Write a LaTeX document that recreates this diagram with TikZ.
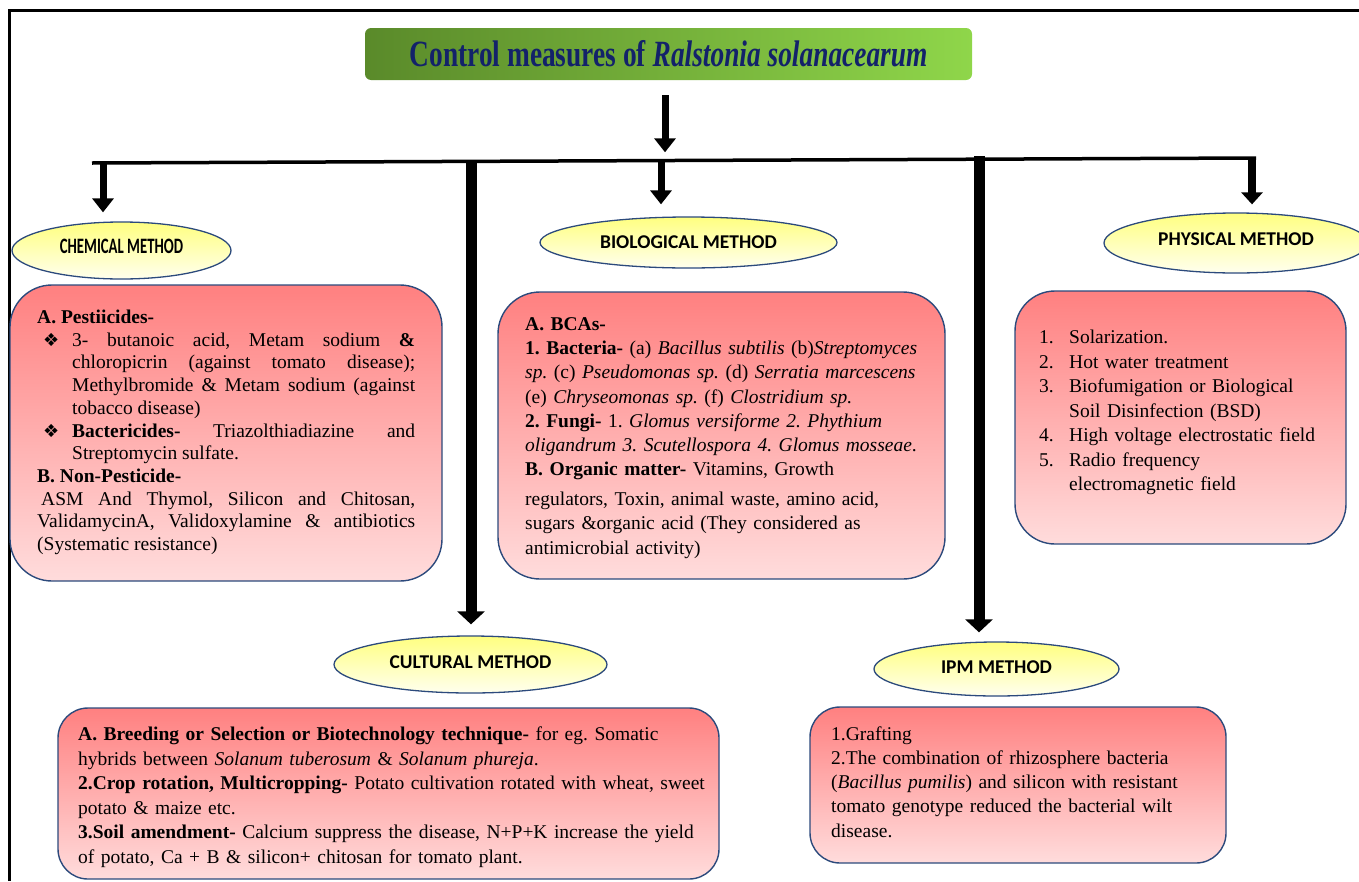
\documentclass[tikz,border=0pt]{standalone}
\usepackage{fontspec}
\setmainfont{Liberation Serif}
\newfontfamily\calfont{Carlito}
\newfontfamily\symfont{DejaVu Sans}
\usetikzlibrary{shapes.geometric,arrows.meta}
\frenchspacing
\definecolor{navy}{HTML}{13226A}
\definecolor{gdark}{HTML}{5A8A2A}
\definecolor{glight}{HTML}{8FD64A}
\definecolor{ytop}{HTML}{FFFF80}
\definecolor{ybot}{HTML}{FFFFEE}
\definecolor{rtop}{HTML}{FF8080}
\definecolor{rbot}{HTML}{FFDCDC}
\definecolor{edgeblue}{HTML}{2C4A7C}
\newcommand{\bul}{\llap{\symfont\fontsize{18}{18}\selectfont ❖\hspace{13pt}}}
\begin{document}
\begin{tikzpicture}[x=1pt,y=-1pt,
  oval/.style={ellipse, draw=edgeblue, line width=1.3pt, top color=ytop, bottom color=ybot, inner sep=0pt, font=\calfont\bfseries\fontsize{19.5}{22}\selectfont},
  rbox/.style={rectangle, draw=edgeblue, line width=1.4pt, top color=rtop, bottom color=rbot, rounded corners=#1},
  rbox/.default=40pt,
  body/.style={inner sep=0pt, anchor=base west, align=left},
  arrS/.style={line width=7pt, -{Triangle[length=14pt,width=21pt]}},
  arrL/.style={line width=11pt, -{Triangle[length=13pt,width=27pt]}},
  bar/.style={line width=3.5pt},
]
\useasboundingbox (0,0) rectangle (1359,881);
% frame
\draw[line width=3pt] (9,881) -- (9,10) -- (1359,10);

% title
\node[rounded corners=6pt, left color=gdark, right color=glight, minimum width=607pt, minimum height=52pt, inner sep=0pt, text=navy] (title) at (668.5,54)
  {\scalebox{0.74}[1]{\fontsize{37}{40}\selectfont\bfseries Control measures of \textit{Ralstonia solanacearum}}};

% ellipses
\node[oval, minimum width=219pt, minimum height=57pt, text depth=8pt] (chem) at (121.5,250.5) {\scalebox{0.67}[1]{\fontsize{22}{24}\selectfont CHEMICAL METHOD}};
\node[oval, minimum width=297pt, minimum height=51pt] (bio) at (688.5,242.5) {BIOLOGICAL METHOD};
\node[oval, minimum width=264pt, minimum height=60pt, text depth=8pt] (phys) at (1236,243) {PHYSICAL METHOD};
\node[oval, minimum width=273pt, minimum height=57pt, text depth=4pt] (cult) at (470.5,664.5) {CULTURAL METHOD};
\node[oval, minimum width=245pt, minimum height=54pt, text depth=4pt] (ipm) at (996.5,669) {IPM METHOD};

% bar and connectors
\coordinate (barL) at (92,163);
\coordinate (cA) at (103,162.8);
\coordinate (cC) at (471,161);
\coordinate (cT) at (665,160.3);
\coordinate (cB) at (661,160.5);
\coordinate (cI) at (979,156);
\coordinate (cP) at (1252,156.5);
\draw[bar] (barL) -- (1256,158);
\draw[arrS] (cT |- title.south) -- (cT) [shorten <=15pt, shorten >=8pt];
\draw[arrS, shorten >=9pt] (cA) -- (cA |- chem.north);
\draw[arrS, shorten >=12pt] (cB) -- (cB |- bio.north);
\draw[line width=8pt, -{Triangle[length=12pt,width=21pt]}, shorten >=8pt] (cP) -- (cP |- phys.north);
\draw[arrL, shorten >=11pt] (cC) -- (cC |- cult.north);
\draw[arrL, shorten >=9pt] (cI) -- (cI |- ipm.north);

% boxes
\node[rbox=42pt, minimum width=432pt, minimum height=296pt] (chembox) at (226,433) {};
\node[rbox=42pt, minimum width=447pt, minimum height=287pt] (biobox) at (721.5,435.5) {};
\node[rbox=40pt, minimum width=331pt, minimum height=253pt] (physbox) at (1180.5,417.5) {};
\node[rbox=30pt, minimum width=661pt, minimum height=171pt] (cultbox) at (388.5,793.5) {};
\node[rbox=30pt, minimum width=416pt, minimum height=156pt] (ipmbox) at (1018,785) {};

% texts
\node[body, text width=378pt, align=justify, font=\fontsize{19.5}{22.7}\selectfont] (chemtxt) at (37,323.5) {%
\textbf{A. Pestiicides-}\par
\noindent\hangindent=35pt\hangafter=0\bul 3- butanoic acid, Metam sodium \textbf{\&}\linebreak chloropicrin (against tomato disease);\linebreak Methylbromide \& Metam sodium (against\linebreak tobacco disease)\par
\noindent\hangindent=35pt\hangafter=0\bul\textbf{Bactericides-} Triazolthiadiazine and\linebreak Streptomycin sulfate.\par
\textbf{B. Non-Pesticide-}\par
\hspace*{4pt}ASM And Thymol, Silicon and Chitosan,\linebreak ValidamycinA, Validoxylamine \& antibiotics\linebreak (Systematic resistance)};

\node[body, text width=420pt, font=\fontsize{19.5}{24.2}\selectfont] (biotxt) at (525,330.5) {%
\textbf{A. BCAs-}\\
\textbf{1. Bacteria-} (a) \textit{Bacillus subtilis} (b)\textit{Streptomyces}\\
\textit{sp.} (c) \textit{Pseudomonas sp.} (d) \textit{Serratia marcescens}\\
(e) \textit{Chryseomonas sp.} (f) \textit{Clostridium sp.}\\
\textbf{2. Fungi-} 1. \textit{Glomus versiforme 2. Phythium}\\
\textit{oligandrum 3. Scutellospora 4. Glomus mosseae}.\\
\textbf{B. Organic matter-} Vitamins, Growth\\[5.8pt]
regulators, Toxin, animal waste, amino acid,\\
sugars \&organic acid (They considered as\\
antimicrobial activity)};

\node[body, text width=300pt, font=\fontsize{19.5}{24.5}\selectfont] (phystxt) at (1039,343.5) {%
\makebox[30pt][l]{1.}Solarization.\\
\makebox[30pt][l]{2.}Hot water treatment\\
\makebox[30pt][l]{3.}Biofumigation or Biological\\
\hspace*{30pt}Soil Disinfection (BSD)\\
\makebox[30pt][l]{4.}High voltage electrostatic field\\
\makebox[30pt][l]{5.}Radio frequency\\
\hspace*{30pt}electromagnetic field};

\node[body, text width=640pt, font=\fontsize{19.5}{24.6}\selectfont] (culttxt) at (78,740.5) {%
\textbf{A. Breeding or Selection or Biotechnology technique-} for eg. Somatic\\
hybrids between \textit{Solanum tuberosum} \& \textit{Solanum phureja}.\\
\textbf{2.Crop rotation, Multicropping-} Potato cultivation rotated with wheat, sweet\\
potato \& maize etc.\\
\textbf{3.Soil amendment-} Calcium suppress the disease, N+P+K increase the yield\\
of potato, Ca + B \& silicon+ chitosan for tomato plant.};

\node[body, text width=390pt, font=\fontsize{19.5}{24.3}\selectfont] (ipmtxt) at (831,740) {%
1.Grafting\\
2.The combination of rhizosphere bacteria\\
(\textit{Bacillus pumilis}) and silicon with resistant\\
tomato genotype reduced the bacterial wilt\\
disease.};
\end{tikzpicture}
\end{document}
